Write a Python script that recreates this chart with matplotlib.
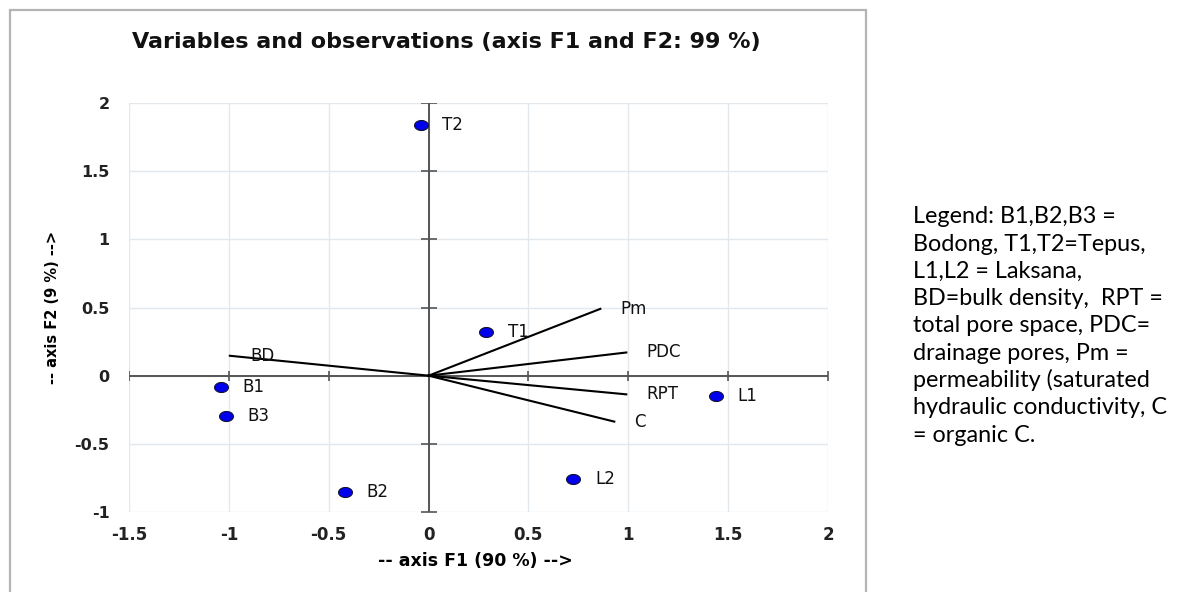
import numpy as np
import matplotlib
matplotlib.use("Agg")
import matplotlib.pyplot as plt
from matplotlib.patches import Rectangle
from matplotlib.path import Path

# ---- data ----
obs_names = ["T2", "T1", "B1", "B3", "B2", "L1", "L2"]
obs_x = [-0.04, 0.29, -1.04, -1.015, -0.42, 1.44, 0.725]
obs_y = [1.84, 0.32, -0.08, -0.295, -0.85, -0.15, -0.76]

var_names = ["BD", "Pm", "PDC", "RPT", "C"]
var_x = [-0.995, 0.86, 0.99, 0.99, 0.93]
var_y = [0.146, 0.49, 0.17, -0.137, -0.337]

xticks = [-1.5, -1, -0.5, 0, 0.5, 1, 1.5, 2]
xticklabels = ["-1.5", "-1", "-0.5", "0", "0.5", "1", "1.5", "2"]
yticks = [-1, -0.5, 0, 0.5, 1, 1.5, 2]
yticklabels = ["-1", "-0.5", "0", "0.5", "1", "1.5", "2"]

title = "Variables and observations (axis F1 and F2: 99 %)"
xlabel = "-- axis F1 (90 %) -->"
ylabel = "-- axis F2 (9 %) -->"
legend_lines = [
    "Legend: B1,B2,B3 =",
    "Bodong, T1,T2=Tepus,",
    "L1,L2 = Laksana,",
    "BD=bulk density,  RPT =",
    "total pore space, PDC=",
    "drainage pores, Pm =",
    "permeability (saturated",
    "hydraulic conductivity, C",
    "= organic C.",
]

# ---- figure ----
W, H = 1181, 592
fig = plt.figure(figsize=(W / 100, H / 100), dpi=100)
fig.patch.set_facecolor("white")

# outer border
fig.patches.append(Rectangle((10 / W, -0.02), (866 - 10) / W, (H - 10) / H + 0.02,
                             transform=fig.transFigure, fill=False,
                             edgecolor="#b4b4b4", linewidth=1.6))

ax_l, ax_r, ax_t, ax_b = 129, 828, 103, 512
ax = fig.add_axes([ax_l / W, 1 - ax_b / H, (ax_r - ax_l) / W, (ax_b - ax_t) / H])
ax.set_xlim(xticks[0], xticks[-1])
ax.set_ylim(yticks[0], yticks[-1])
for s in ax.spines.values():
    s.set_visible(False)
ax.set_xticks(xticks)
ax.set_xticklabels(xticklabels)
ax.set_yticks(yticks)
ax.set_yticklabels(yticklabels)
ax.tick_params(axis="y", length=0, labelsize=11.5, pad=14)
ax.tick_params(axis="x", length=0, labelsize=12, pad=10)
for lab in ax.get_xticklabels() + ax.get_yticklabels():
    lab.set_fontfamily("DejaVu Sans")
    lab.set_fontweight("bold")
    lab.set_color("#222222")
ax.grid(True, color="#e2e8ec", linewidth=1.0, zorder=0)
ax.set_axisbelow(True)

# axes through origin
axc = "#555555"
ax.axhline(0, color=axc, lw=1.4, zorder=1)
ax.axvline(0, color=axc, lw=1.4, zorder=1)
ax.plot(xticks, np.zeros(len(xticks)), ls="", marker="|", ms=7, mew=1.2, color=axc, zorder=1)
ax.plot(np.zeros(len(yticks)), yticks, ls="", marker="_", ms=12, mew=1.2, color=axc, zorder=1)

# variable vectors
for n, x, y in zip(var_names, var_x, var_y):
    ax.plot([0, x], [0, y], color="black", lw=1.5, zorder=2)
    ax.annotate(n, (x, y), xytext=(14.5, 0), textcoords="offset points",
                ha="left", va="center", fontsize=12, family="DejaVu Sans",
                color="#111111", zorder=3)

# observation points
t = np.linspace(0, 2 * np.pi, 40)
ell = Path(np.column_stack([np.cos(t), 0.72 * np.sin(t)]))
ax.plot(obs_x, obs_y, ls="", marker=ell, ms=10, mfc="#0000ee", mec="#111133",
        mew=0.8, zorder=4)
for n, x, y in zip(obs_names, obs_x, obs_y):
    ax.annotate(n, (x, y), xytext=(15.5, 0), textcoords="offset points",
                ha="left", va="center", fontsize=12, family="DejaVu Sans",
                color="#111111", zorder=5)

ax.set_xlabel(xlabel, fontsize=12.5, fontweight="bold", family="DejaVu Sans")
ax.xaxis.set_label_coords((475 - ax_l) / (ax_r - ax_l), (ax_b - 552) / (ax_b - ax_t))
ax.set_ylabel(ylabel, fontsize=10.5, fontweight="bold", family="DejaVu Sans")
ax.yaxis.set_label_coords((60 - ax_l) / (ax_r - ax_l), 0.5)

fig.text(446 / W, 1 - 42 / H, title, ha="center", va="center", fontsize=16,
         fontweight="bold", family="DejaVu Sans", color="#111111")

# side legend text
y0, dy = 223.3, 27.3
for i, line in enumerate(legend_lines):
    fig.text(913 / W, 1 - (y0 + i * dy) / H, line, ha="left", va="baseline",
             fontsize=16.8, family="Lato", color="black")

fig.savefig("out.png", dpi=100)
